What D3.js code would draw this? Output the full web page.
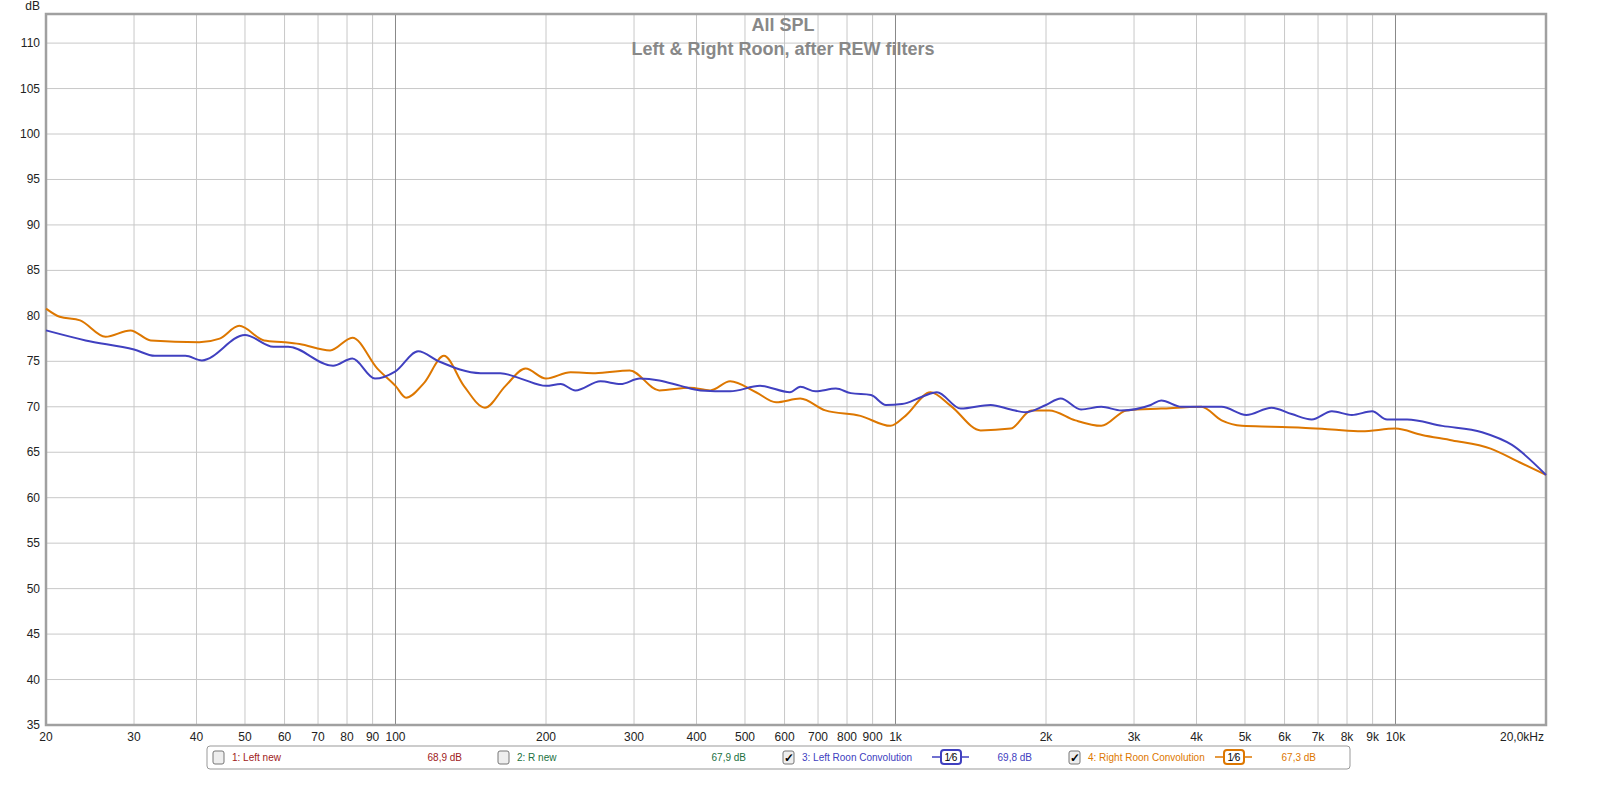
<!DOCTYPE html>
<html><head><meta charset="utf-8">
<script src="https://cdn.jsdelivr.net/npm/d3@7"></script>
<style>html,body{margin:0;background:#fff;overflow:hidden;font-family:Arial,"Liberation Sans",sans-serif}svg{display:block}</style>
</head><body><svg id="c" width="1600" height="787"></svg>
<script>
const leftFreq = [20,24,30,33,38,41,50,57,61,75,82,91,100,111,122,148,162,178,200,214,229,257,282,308,337,372,407,467,536,615,645,692,760,814,893,957,1030,1130,1210,1350,1550,1700,1820,2000,2140,2350,2580,2830,3240,3400,3730,4090,4490,5030,5650,6200,6800,7460,8180,8980,9620,10550,12400,14900,17100,20000];
const leftDb = [78.4,77.3,76.3,75.6,75.6,75.1,77.9,76.6,76.6,74.5,75.3,73.1,73.9,76.1,75.0,73.7,73.7,73.1,72.3,72.5,71.8,72.8,72.5,73.1,72.9,72.3,71.8,71.7,72.3,71.6,72.2,71.7,72.0,71.5,71.3,70.2,70.3,71.1,71.6,69.8,70.2,69.7,69.4,70.2,70.9,69.7,70.0,69.6,70.2,70.7,70.0,70.0,70.0,69.1,69.9,69.2,68.6,69.5,69.1,69.5,68.6,68.6,67.9,67.2,65.8,62.5];
const rightFreq = [20,21.3,23.4,26.3,29.5,32.4,40.5,44.5,48.7,54.6,60,64.3,74,82,92,100,105,114,125,137,151,166,182,200,224,251,294,337,388,426,467,526,577,645,724,851,977,1047,1175,1290,1480,1700,1870,2030,2290,2580,2900,3400,4090,4490,4930,5650,6500,7460,8560,10000,11300,13000,15500,17700,20000];
const rightDb = [80.8,79.9,79.5,77.7,78.4,77.3,77.1,77.5,78.9,77.3,77.1,76.9,76.2,77.6,74.2,72.3,71.0,72.6,75.6,72.3,69.9,72.3,74.2,73.1,73.8,73.7,74.0,71.8,72.1,71.8,72.8,71.6,70.5,70.9,69.6,69.0,67.9,69.0,71.6,70.1,67.4,67.6,69.6,69.6,68.5,67.9,69.6,69.8,70.0,68.5,67.9,67.8,67.7,67.5,67.3,67.6,66.9,66.3,65.4,63.9,62.5];
const xTicks = [20,30,40,50,60,70,80,90,100,200,300,400,500,600,700,800,900,1000,2000,3000,4000,5000,6000,7000,8000,9000,10000,20000];
const xTickLabels = ["20","30","40","50","60","70","80","90","100","200","300","400","500","600","700","800","900","1k","2k","3k","4k","5k","6k","7k","8k","9k","10k","20,0kHz"];
const yTicks = d3.range(35, 111, 5);

const svg = d3.select("#c");
const L = 46, R = 1546, T = 14, B = 725;
const x = d3.scaleLog().domain([20, 20000]).range([L, R]);
const y = d3.scaleLinear().domain([35, 113.2]).range([B, T]);

// grid
svg.append("g").selectAll("line").data(yTicks).join("line")
  .attr("x1", L).attr("x2", R).attr("y1", d => y(d)).attr("y2", d => y(d))
  .attr("stroke", "#c8c8c8");
svg.append("g").selectAll("line").data(xTicks.slice(1, -1)).join("line")
  .attr("y1", T).attr("y2", B).attr("x1", d => x(d)).attr("x2", d => x(d))
  .attr("stroke", d => [100, 1000, 10000].includes(d) ? "#888" : "#c8c8c8");

svg.append("rect").attr("x", L).attr("y", T).attr("width", R - L).attr("height", B - T)
  .attr("fill", "none").attr("stroke", "#a0a0a0").attr("stroke-width", 2.5);

// y axis
svg.append("g").selectAll("text").data(yTicks).join("text")
  .attr("x", L - 6).attr("y", d => y(d) + 4).attr("text-anchor", "end")
  .attr("font-size", 12).attr("fill", "#222").text(d => d);
svg.append("text").attr("x", L - 6).attr("y", 10).attr("text-anchor", "end")
  .attr("font-size", 12).attr("fill", "#222").text("dB");

// x axis
svg.append("g").selectAll("text").data(xTicks).join("text")
  .attr("x", (d, i) => x(d) + (i === xTicks.length - 1 ? -24 : 0)).attr("y", 741)
  .attr("text-anchor", "middle").attr("font-size", 12).attr("fill", "#222")
  .text((d, i) => xTickLabels[i]);

// titles
svg.append("text").attr("x", 783).attr("y", 31).attr("text-anchor", "middle")
  .attr("font-size", 18).attr("font-weight", "bold").attr("fill", "#888").text("All SPL");
svg.append("text").attr("x", 783).attr("y", 55).attr("text-anchor", "middle")
  .attr("font-size", 18).attr("font-weight", "bold").attr("fill", "#888").text("Left & Right Roon, after REW filters");

// curves
const line = d3.line().x(d => x(d[0])).y(d => y(d[1])).curve(d3.curveMonotoneX);
const g = svg.append("g");
g.append("path").datum(rightFreq.map((f, i) => [f, rightDb[i]]))
  .attr("d", line).attr("fill", "none").attr("stroke", "#dd7700").attr("stroke-width", 2);
g.append("path").datum(leftFreq.map((f, i) => [f, leftDb[i]]))
  .attr("d", line).attr("fill", "none").attr("stroke", "#4040c0").attr("stroke-width", 2);

// legend
const lg = svg.append("g");
lg.append("rect").attr("x", 207).attr("y", 746).attr("width", 1143).attr("height", 23).attr("rx", 3)
  .attr("fill", "#fff").attr("stroke", "#999");
const items = [
  {x: 213, label: "1: Left new", val: "68,9 dB", vx: 462, c: "#a02020", chk: false},
  {x: 498, label: "2: R new", val: "67,9 dB", vx: 746, c: "#207040", chk: false},
  {x: 783, label: "3: Left Roon Convolution", val: "69,8 dB", vx: 1032, c: "#4040c0", chk: true, sw: 935},
  {x: 1069, label: "4: Right Roon Convolution", val: "67,3 dB", vx: 1316, c: "#dd7700", chk: true, sw: 1218}
];
items.forEach(it => {
  lg.append("rect").attr("x", it.x).attr("y", 751).attr("width", 11).attr("height", 13).attr("rx", 2)
    .attr("fill", "#eee").attr("stroke", "#777");
  if (it.chk) lg.append("text").attr("x", it.x + 1).attr("y", 762).attr("font-size", 12)
    .attr("font-weight", "bold").attr("fill", "#000").text("✓");
  lg.append("text").attr("x", it.x + 19).attr("y", 761).attr("font-size", 10).attr("fill", it.c).text(it.label);
  lg.append("text").attr("x", it.vx).attr("y", 761).attr("text-anchor", "end").attr("font-size", 10)
    .attr("fill", it.c).text(it.val);
  if (it.sw) {
    lg.append("line").attr("x1", it.sw - 3).attr("x2", it.sw + 34).attr("y1", 757).attr("y2", 757)
      .attr("stroke", it.c).attr("stroke-width", 1.5);
    lg.append("rect").attr("x", it.sw + 6).attr("y", 750).attr("width", 20).attr("height", 14).attr("rx", 3)
      .attr("fill", "#fff").attr("stroke", it.c).attr("stroke-width", 2);
    lg.append("text").attr("x", it.sw + 16).attr("y", 761).attr("text-anchor", "middle")
      .attr("font-size", 10).attr("fill", "#000").text("1⁄6");
  }
});
</script></body></html>
